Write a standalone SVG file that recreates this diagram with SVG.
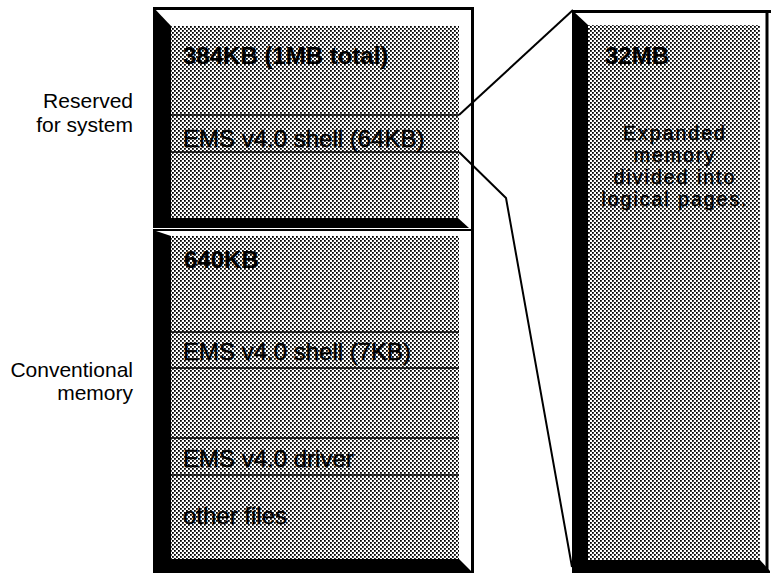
<svg xmlns="http://www.w3.org/2000/svg" width="771" height="573" viewBox="0 0 771 573">
<defs>
<pattern id="dots" patternUnits="userSpaceOnUse" width="4" height="4">
<rect width="4" height="4" fill="#fff"/>
<rect x="0" y="0" width="1.8" height="1.8" fill="#000"/>
<rect x="2" y="2" width="1.8" height="1.8" fill="#000"/>
</pattern>
</defs>
<style>
.bg{fill:#fff}
.shade{fill:url(#dots)}
.dark{fill:#000}
.edge{stroke:#000;stroke-width:3;fill:none}
.sep{stroke:#000;stroke-width:1.6;fill:none}
.conn{stroke:#000;stroke-width:2;fill:none;stroke-linejoin:round}
.t{font-family:"Liberation Sans",Arial,sans-serif;font-size:24px;fill:#000;stroke:#000;stroke-width:0.4}
.b{font-weight:bold;stroke-width:0.2}
.r{font-size:19.5px;letter-spacing:2px}
.lbl{font-family:"Liberation Sans",Arial,sans-serif;font-size:21px;fill:#000;text-anchor:end}
.c{text-anchor:middle}
</style>
<rect width="771" height="573" fill="#fff"/>

<g id="label-reserved">
<text class="lbl" x="133" y="108">Reserved</text>
<text class="lbl" x="133" y="132">for system</text>
</g>
<g id="label-conventional">
<text class="lbl" x="133" y="377">Conventional</text>
<text class="lbl" x="133" y="400">memory</text>
</g>

<g id="reserved-block">
<rect class="bg" x="153" y="8" width="320" height="220"/>
<rect class="shade" x="171" y="26" width="288" height="192"/>
<polygon class="dark" points="153,7 171,26 171,218 153,218"/>
<polygon class="dark" points="153,218 458,218 469,228 153,228"/>
<line class="edge" x1="153" y1="8.5" x2="474" y2="8.5"/>
<line class="sep" x1="171" y1="115" x2="459" y2="115"/>
<line class="sep" x1="171" y1="152" x2="459" y2="152"/>
<text class="t b" x="183" y="64">384KB (1MB total)</text>
<text class="t" x="183" y="147">EMS v4.0 shell (64KB)</text>
</g>

<g id="conventional-block">
<rect class="bg" x="153" y="230" width="320" height="343"/>
<rect class="shade" x="171" y="236" width="288" height="323"/>
<polygon class="dark" points="153,230 171,236 171,559 153,559"/>
<polygon class="dark" points="153,559 459,559 471,571 471,573 153,573"/>
<line x1="153" y1="230" x2="473" y2="230" stroke="#000" stroke-width="2"/>
<line class="sep" x1="171" y1="332" x2="459" y2="332"/>
<line class="sep" x1="171" y1="368" x2="459" y2="368"/>
<line class="sep" x1="171" y1="438" x2="459" y2="438"/>
<line class="sep" x1="171" y1="475" x2="459" y2="475"/>
<text class="t b" x="184" y="268">640KB</text>
<text class="t" x="183" y="360">EMS v4.0 shell (7KB)</text>
<text class="t" x="183" y="467">EMS v4.0 driver</text>
<text class="t" x="183" y="524">other files</text>
</g>

<g id="left-right-edge">
<line class="edge" x1="472.5" y1="7" x2="472.5" y2="573"/>
</g>

<g id="expanded-memory">
<rect class="bg" x="572" y="11" width="196" height="562"/>
<rect class="shade" x="588" y="25" width="172" height="535"/>
<polygon class="dark" points="572,10 588,25 588,560 572,560"/>
<polygon class="dark" points="572,560 760,560 770,571 770,573 572,573"/>
<line class="edge" x1="572" y1="11.5" x2="771" y2="11.5"/>
<line class="edge" x1="767" y1="10" x2="767" y2="573"/>
<text class="t b" x="605" y="64">32MB</text>
<text class="t r c" x="675" y="140">Expanded</text>
<text class="t r c" x="675" y="162">memory</text>
<text class="t r c" x="675" y="184">divided into</text>
<text class="t r c" x="675" y="206">logical pages.</text>
</g>

<g id="connectors">
<polyline class="conn" points="459,115 573,10"/>
<polyline class="conn" points="459,152 506,198 572,567"/>
</g>
</svg>
